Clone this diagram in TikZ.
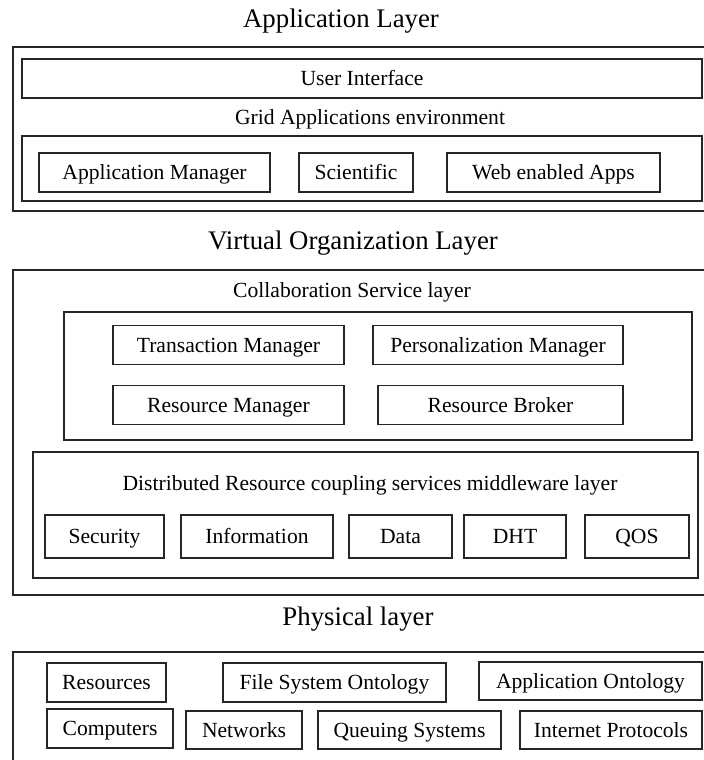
\documentclass[tikz,border=0pt]{standalone}
\usepackage{fontspec}
\setmainfont{Liberation Serif}

\tikzset{
  box/.style={draw=black!85, line width=0.75pt, inner sep=0pt},
  item/.style={box, minimum height=19.5pt},
  ttl/.style={font=\fontsize{13.4}{16}\selectfont, anchor=base},
}

\begin{document}
\begin{tikzpicture}[x=0.5pt,y=-0.5pt,font=\fontsize{10.8}{13}\selectfont,
    text height=7.2pt, text depth=0pt]

  \clip (0,0) rectangle (704,760);

  % application layer
  \node[ttl] (apptitle) at (341,27) {Application Layer};
  \node[box, minimum width=348.5pt, minimum height=82pt] (app) at (361.5,129) {};
  \node[item, minimum width=340pt] (ui) at (362,78.5) {User Interface};
  \node (gridtitle) at (370,117) {Grid Applications environment};
  \node[box, minimum width=340pt, minimum height=32.5pt] (grid) at (362,168.5) {};
  \node[item, minimum width=115.5pt] (appmgr) at (154.5,172.5) {Application Manager};
  \node[item, minimum width=57pt] (sci) at (356,172.5) {Scientific};
  \node[item, minimum width=106.5pt] (web) at (553.5,172.5) {Web enabled Apps};

  % virtual organization layer
  \node[ttl] (votitle) at (353,249) {Virtual Organization Layer};
  \node[box, minimum width=348.5pt, minimum height=162.5pt] (vo) at (361.5,432.5) {};
  \node (colltitle) at (352,290) {Collaboration Service layer};
  \node[box, minimum width=314pt, minimum height=64pt] (coll) at (378,376) {};
  \node[item, minimum width=115.5pt] (trans) at (228.5,345) {Transaction Manager};
  \node[item, minimum width=125pt] (pers) at (498,345) {Personalization Manager};
  \node[item, minimum width=115.5pt] (resmgr) at (228.5,405) {Resource Manager};
  \node[item, minimum width=122.5pt] (broker) at (500.5,405) {Resource Broker};
  \node[box, minimum width=332.5pt, minimum height=63pt] (dist) at (365.5,515) {};
  \node (disttitle) at (370,483) {Distributed Resource coupling services middleware layer};
  \node[item, minimum width=59.5pt, minimum height=21.5pt] (sec) at (104.5,536.5) {Security};
  \node[item, minimum width=76pt, minimum height=21.5pt] (info) at (257,536.5) {Information};
  \node[item, minimum width=51.5pt, minimum height=21.5pt] (data) at (400.5,536.5) {Data};
  \node[item, minimum width=51pt, minimum height=21.5pt] (dht) at (515,536.5) {DHT};
  \node[item, minimum width=52pt, minimum height=21.5pt] (qos) at (637,536.5) {QOS};

  % physical layer
  \node[ttl] (phytitle) at (358,625) {Physical layer};
  \node[box, minimum width=348.5pt, minimum height=59pt] (phy) at (361.5,711) {};
  \node[item, minimum width=59.5pt] (res) at (106.5,682.5) {Resources};
  \node[item, minimum width=111.5pt] (fso) at (334.5,682.5) {File System Ontology};
  \node[item, minimum width=111.5pt, minimum height=19pt] (ao) at (590.5,681) {Application Ontology};
  \node[item, minimum width=63pt] (comp) at (110,728.5) {Computers};
  \node[item, minimum width=58pt, minimum height=19pt] (net) at (244,730) {Networks};
  \node[item, minimum width=91.5pt, minimum height=19pt] (queue) at (409.5,730) {Queuing Systems};
  \node[item, minimum width=91pt, minimum height=19pt] (inet) at (611,730) {Internet Protocols};

\end{tikzpicture}
\end{document}
